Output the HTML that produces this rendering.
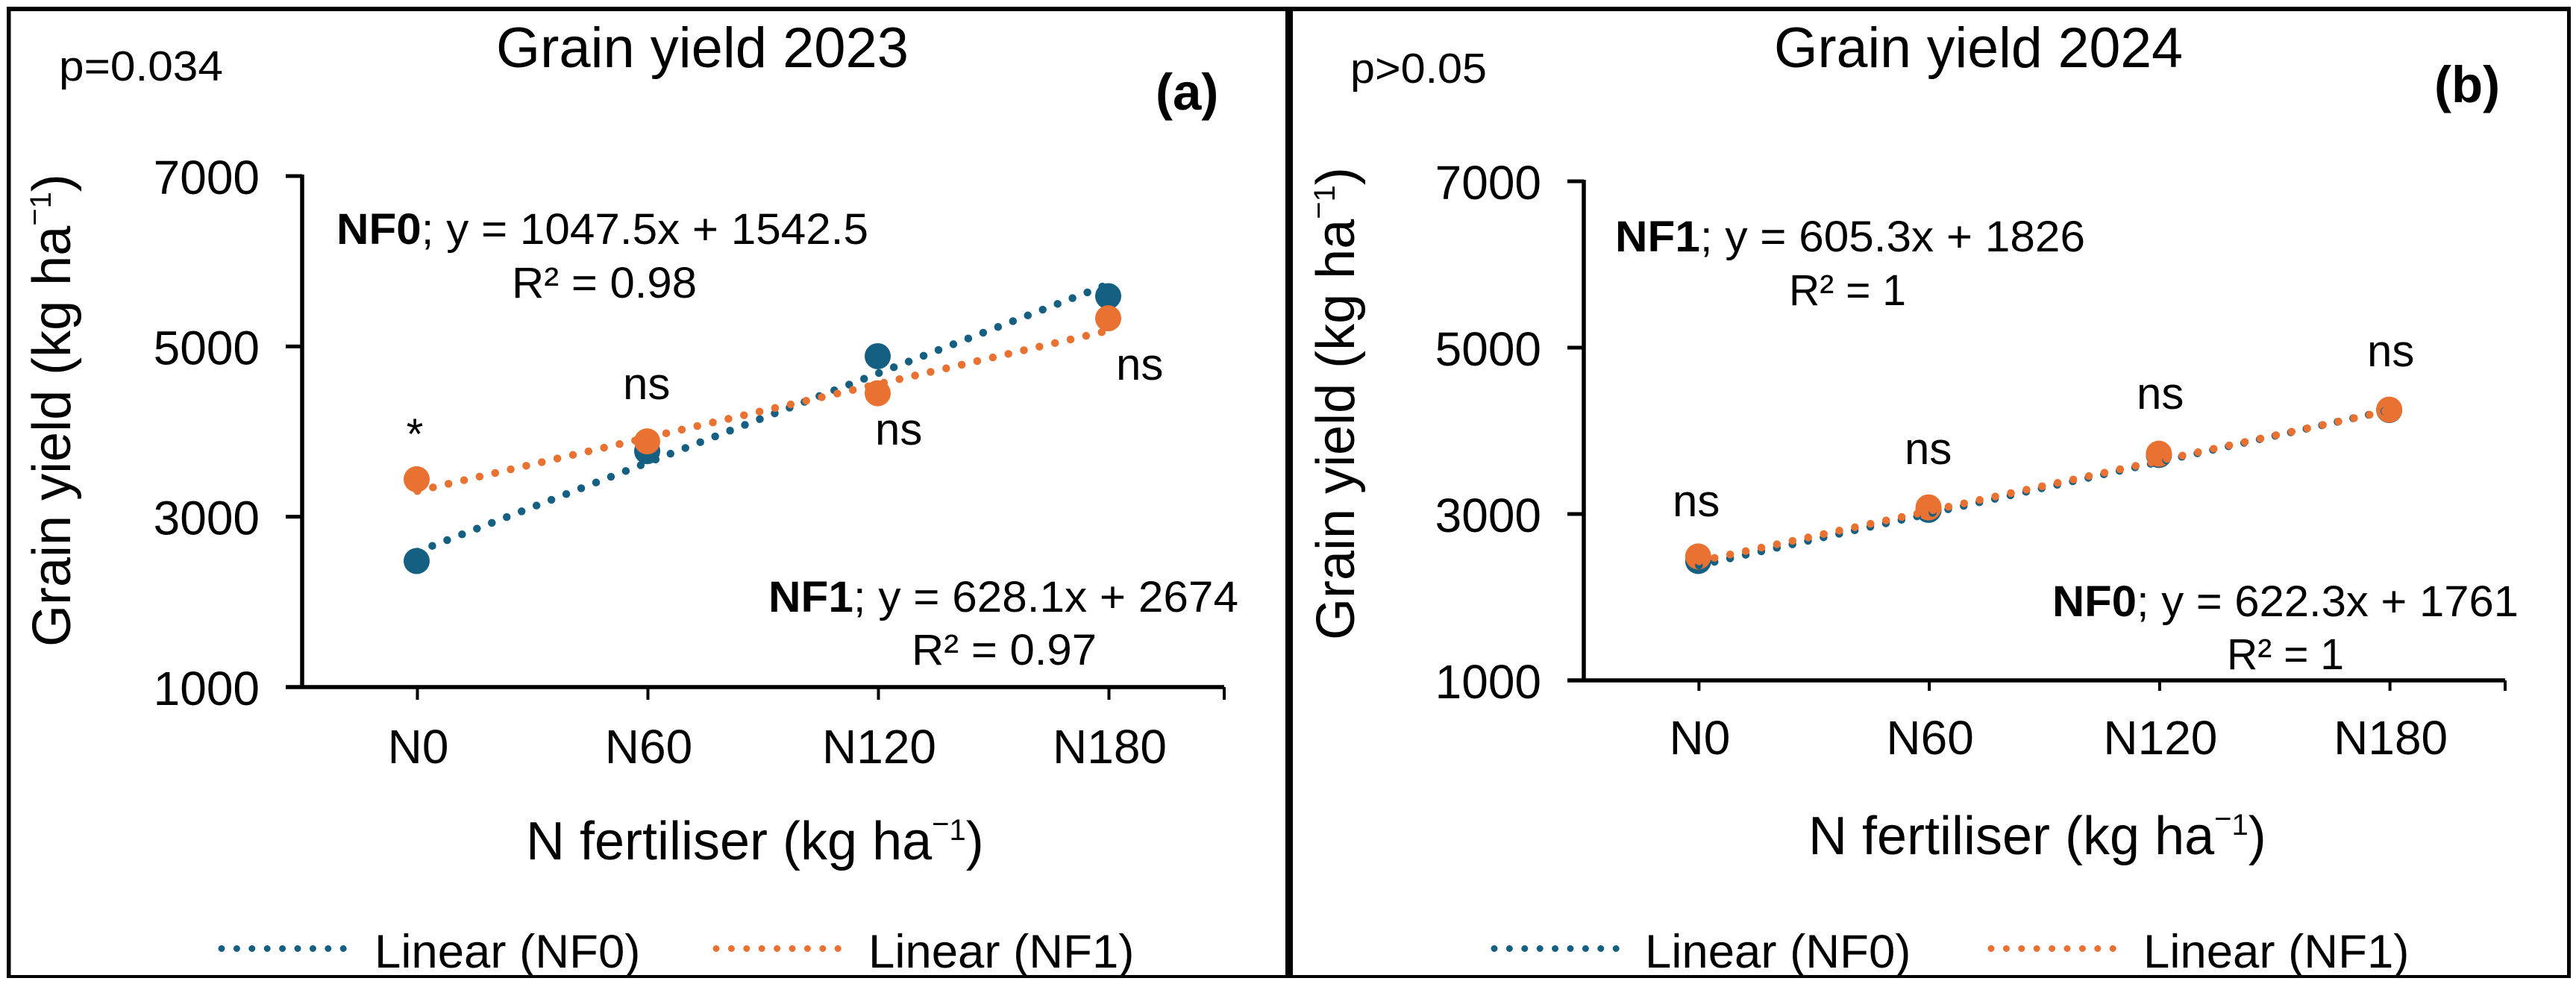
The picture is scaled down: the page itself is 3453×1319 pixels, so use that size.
<!DOCTYPE html>
<html lang="en">
<head>
<meta charset="utf-8">
<title>Grain yield 2023 and 2024</title>
<style>
html,body{margin:0;padding:0;background:#fff;}
svg{display:block;}
text{font-family:"Liberation Sans",Arial,sans-serif;fill:#000;}
</style>
</head>
<body>
<svg id="chart" xmlns="http://www.w3.org/2000/svg" width="3453" height="1319" viewBox="0 0 3453 1319">
  <rect x="0" y="0" width="3453" height="1319" fill="#fff"/>
  <rect x="9" y="9" width="3437" height="6" fill="#000"/>
  <rect x="9" y="9" width="5.5" height="1302" fill="#000"/>
  <rect x="3441" y="9" width="5" height="1302" fill="#000"/>
  <rect x="9" y="1307" width="3437" height="4" fill="#000"/>
  <rect x="1723" y="9" width="10" height="1302" fill="#000"/>

  <g id="panel-a">
    <text x="665" y="90" font-size="76" textLength="553" lengthAdjust="spacingAndGlyphs">Grain yield 2023</text>
    <text x="79" y="108" font-size="57" textLength="220" lengthAdjust="spacingAndGlyphs">p=0.034</text>
    <text x="1549" y="147" font-size="69" font-weight="bold">(a)</text>
    <text transform="translate(94 867) rotate(-90)" font-size="72">Grain yield (kg ha<tspan font-size="40" dy="-34">−</tspan><tspan font-size="40" dy="8">1</tspan><tspan dy="26">)</tspan></text>
    <text x="705" y="1152" font-size="72">N fertiliser (kg ha<tspan font-size="40" dy="-34">−</tspan><tspan font-size="40" dy="8">1</tspan><tspan dy="26">)</tspan></text>
    <text x="451" y="327" font-size="58" textLength="713" lengthAdjust="spacingAndGlyphs"><tspan font-weight="bold">NF0</tspan>; y = 1047.5x + 1542.5</text>
    <text x="686" y="399" font-size="58" textLength="248" lengthAdjust="spacingAndGlyphs">R² = 0.98</text>
    <text x="1030" y="820" font-size="58" textLength="630" lengthAdjust="spacingAndGlyphs"><tspan font-weight="bold">NF1</tspan>; y = 628.1x + 2674</text>
    <text x="1222" y="891" font-size="58" textLength="248" lengthAdjust="spacingAndGlyphs">R² = 0.97</text>
    <text x="556" y="602" font-size="58" text-anchor="middle">*</text>
    <text x="835" y="535" font-size="60">ns</text>
    <text x="1173" y="596" font-size="60">ns</text>
    <text x="1496" y="509" font-size="60">ns</text>
    <line x1="297" y1="1271.5" x2="476" y2="1271.5" stroke="#156082" stroke-width="9" stroke-linecap="round" stroke-dasharray="0 20.4"/>
    <text x="502" y="1297" font-size="63.5">Linear (NF0)</text>
    <line x1="960" y1="1271.5" x2="1139" y2="1271.5" stroke="#E97132" stroke-width="9" stroke-linecap="round" stroke-dasharray="0 20.4"/>
    <text x="1164" y="1297" font-size="63.5">Linear (NF1)</text>
  </g>

  <g id="panel-b">
    <text x="2378" y="90" font-size="76" textLength="548" lengthAdjust="spacingAndGlyphs">Grain yield 2024</text>
    <text x="1810" y="111" font-size="57" textLength="183" lengthAdjust="spacingAndGlyphs">p&gt;0.05</text>
    <text x="3263" y="137" font-size="69" font-weight="bold">(b)</text>
    <text transform="translate(1815 858) rotate(-90)" font-size="72">Grain yield (kg ha<tspan font-size="40" dy="-34">−</tspan><tspan font-size="40" dy="8">1</tspan><tspan dy="26">)</tspan></text>
    <text x="2424" y="1145" font-size="72">N fertiliser (kg ha<tspan font-size="40" dy="-34">−</tspan><tspan font-size="40" dy="8">1</tspan><tspan dy="26">)</tspan></text>
    <text x="2165" y="337" font-size="58" textLength="630" lengthAdjust="spacingAndGlyphs"><tspan font-weight="bold">NF1</tspan>; y = 605.3x + 1826</text>
    <text x="2398" y="409" font-size="58" textLength="157" lengthAdjust="spacingAndGlyphs">R² = 1</text>
    <text x="2751" y="826" font-size="58" textLength="625" lengthAdjust="spacingAndGlyphs"><tspan font-weight="bold">NF0</tspan>; y = 622.3x + 1761</text>
    <text x="2985" y="897" font-size="58" textLength="157" lengthAdjust="spacingAndGlyphs">R² = 1</text>
    <text x="2242" y="692" font-size="60">ns</text>
    <text x="2553" y="622" font-size="60">ns</text>
    <text x="2864" y="548" font-size="60">ns</text>
    <text x="3173" y="491" font-size="60">ns</text>
    <line x1="2003" y1="1271.5" x2="2182" y2="1271.5" stroke="#156082" stroke-width="9" stroke-linecap="round" stroke-dasharray="0 20.4"/>
    <text x="2205" y="1297" font-size="63.5">Linear (NF0)</text>
    <line x1="2669" y1="1271.5" x2="2848" y2="1271.5" stroke="#E97132" stroke-width="9" stroke-linecap="round" stroke-dasharray="0 20.4"/>
    <text x="2873" y="1297" font-size="63.5">Linear (NF1)</text>
  </g>
</svg>

<script>
const categories = ['N0', 'N60', 'N120', 'N180'];
const yTickValues = [1000, 3000, 5000, 7000];

const nf0Yield2023 = [2480, 3770, 4885, 5590];
const nf1Yield2023 = [3440, 3885, 4450, 5330];
const nf0Yield2024 = [2435, 3050, 3710, 4250];
const nf1Yield2024 = [2490, 3080, 3725, 4255];

const nf0Trend2023 = [1047.5, 1542.5];
const nf1Trend2023 = [628.1, 2674];
const nf0Trend2024 = [622.3, 1761];
const nf1Trend2024 = [605.3, 1826];

const NS = 'http://www.w3.org/2000/svg';
const BLUE = '#156082';
const ORANGE = '#E97132';

function make(parent, tag, attrs) {
  const el = document.createElementNS(NS, tag);
  for (const k in attrs) el.setAttribute(k, attrs[k]);
  parent.appendChild(el);
  return el;
}

function drawPanel(suffix, box, nf0, nf1, nf0Trend, nf1Trend) {
  const root = document.getElementById('panel-' + suffix);
  const g = make(root, 'g', {});
  
  

  const yMin = yTickValues[0];
  const yMax = yTickValues[yTickValues.length - 1];
  const yScale = v => box.bottom - (v - yMin) / (yMax - yMin) * (box.bottom - box.top);
  const xScale = i => box.left + (i + 0.5) * (box.right - box.left) / categories.length;

  const yAxis = make(g, 'line', { x1: box.left, x2: box.left, y1: box.top - 2, y2: box.bottom, stroke: '#000', 'stroke-width': 5.5 });
  
  

  const xAxis = make(g, 'line', { x1: box.left - 22, x2: box.right, y1: box.bottom, y2: box.bottom, stroke: '#000', 'stroke-width': 5.5 });
  
  

  yTickValues.forEach(v => {
    const tick = make(g, 'line', { x1: box.left - 22, x2: box.left, y1: yScale(v), y2: yScale(v), stroke: '#000', 'stroke-width': 5 });
    
    
    const label = make(g, 'text', { x: box.left - 57, y: yScale(v) + 24, 'font-size': 64, 'text-anchor': 'end' });
    label.textContent = String(v);
    
    
  });

  categories.forEach((c, i) => {
    const tick = make(g, 'line', { x1: xScale(i), x2: xScale(i), y1: box.bottom, y2: box.bottom + box.tickLen, stroke: '#000', 'stroke-width': 4 });
    
    
    const label = make(g, 'text', { x: xScale(i) + 1, y: box.catBase, 'font-size': 64, 'text-anchor': 'middle' });
    label.textContent = c;
    
    
  });

  const endTick = make(g, 'line', { x1: box.right, x2: box.right, y1: box.bottom, y2: box.bottom + box.tickLen, stroke: '#000', 'stroke-width': 4 });
  
  

  nf0.forEach((v, i) => {
    const dot = make(g, 'circle', { cx: xScale(i) - 1, cy: yScale(v), r: 17.5, fill: BLUE });
    
    
  });
  nf1.forEach((v, i) => {
    const dot = make(g, 'circle', { cx: xScale(i) - 1, cy: yScale(v), r: 17.5, fill: ORANGE });
    
    
  });

  const last = categories.length - 1;
  const trendValue = (t, i) => t[0] * (i + 1) + t[1];

  const line0 = make(g, 'line', {
    x1: xScale(0), y1: yScale(trendValue(nf0Trend, 0)), x2: xScale(last), y2: yScale(trendValue(nf0Trend, last)),
    stroke: BLUE, 'stroke-width': 10.5, 'stroke-linecap': 'round', 'stroke-dasharray': '0 21.4'
  });
  
  

  const line1 = make(g, 'line', {
    x1: xScale(0), y1: yScale(trendValue(nf1Trend, 0)), x2: xScale(last), y2: yScale(trendValue(nf1Trend, last)),
    stroke: ORANGE, 'stroke-width': 10.5, 'stroke-linecap': 'round', 'stroke-dasharray': '0 21.4'
  });
  
  
}

drawPanel('a', { left: 405, right: 1641, top: 236, bottom: 921, tickLen: 17, catBase: 1023 }, nf0Yield2023, nf1Yield2023, nf0Trend2023, nf1Trend2023);
drawPanel('b', { left: 2123, right: 3358, top: 243, bottom: 912, tickLen: 14, catBase: 1011 }, nf0Yield2024, nf1Yield2024, nf0Trend2024, nf1Trend2024);
</script>
</body>
</html>
